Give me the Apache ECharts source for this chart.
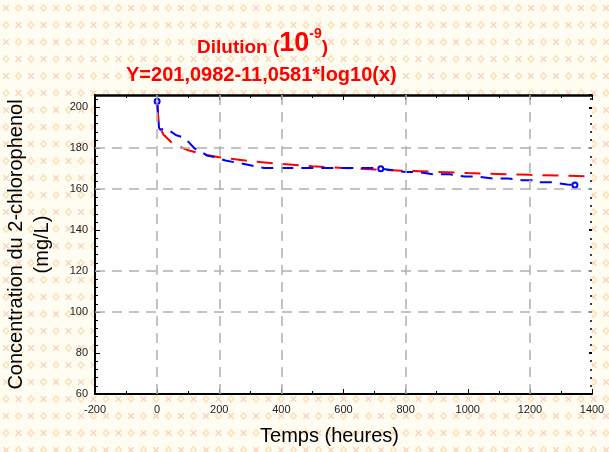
<!DOCTYPE html>
<html><head><meta charset="utf-8">
<script src="https://cdn.jsdelivr.net/npm/echarts@6/dist/echarts.min.js"></script>
<style>html,body{margin:0;padding:0;background:#fff}#c{width:609px;height:452px}</style>
</head><body><div id="c"></div>
<script>
// Fitted model curve (red)
var redX = [1, 2, 5, 10, 20, 50, 100, 150, 200, 300, 400, 500, 600, 700, 800, 1000, 1200, 1400];
var redY = [201.1, 197.8, 193.4, 190.0, 186.7, 182.3, 179.0, 177.0, 175.6, 173.7, 172.3, 171.2, 170.4, 169.6, 169.0, 167.9, 167.0, 166.3];
// Observed data (blue)
var blueX = [0, 2, 4, 6, 10, 20, 40, 60, 80, 95, 120, 140, 160, 190, 220, 255, 300, 330, 345, 500, 700, 720, 800, 840, 890, 940, 990, 1030, 1080, 1130, 1175, 1220, 1230, 1270, 1320, 1345];
var blueY = [203.0, 199.0, 195.0, 190.0, 189.0, 189.5, 188.5, 186.5, 185.5, 184.0, 180.0, 178.5, 176.5, 175.5, 174.0, 173.0, 171.7, 170.7, 170.4, 170.4, 170.4, 170.0, 168.4, 168.4, 167.3, 167.3, 166.2, 166.2, 165.2, 165.2, 164.4, 164.4, 163.4, 163.4, 162.3, 162.0];
var blueMarked = [0, 720, 1345];
// Axes and grid
var xMin = -200, xMax = 1400, xStep = 200;
var yMin = 60, yMax = 206, yStep = 20;
var gridX = [0, 200, 400, 800, 1200];
var gridY = [180, 160, 120, 100];
var titleLine1 = ['Dilution (', '10', '-9', ')'];
var titleLine2 = 'Y=201,0982-11,0581*log10(x)';
var xName = 'Temps (heures)';
var yName = 'Concentration du 2-chlorophenol\n(mg/L)';

function pair(xs, ys) { return xs.map(function (x, i) { return [x, ys[i]]; }); }

// background pattern
var pc = document.createElement('canvas');
pc.width = 25; pc.height = 34;
var g = pc.getContext('2d');
g.fillStyle = '#fffdf2'; g.fillRect(0, 0, 25, 34);
function cross(cx, cy) {
  g.strokeStyle = 'rgba(242,160,120,0.45)'; g.lineWidth = 1.4;
  g.beginPath(); g.moveTo(cx - 2.8, cy - 2.8); g.lineTo(cx + 2.8, cy + 2.8);
  g.moveTo(cx + 2.8, cy - 2.8); g.lineTo(cx - 2.8, cy + 2.8); g.stroke();
}
function dia(cx, cy) {
  g.strokeStyle = 'rgba(246,196,120,0.5)'; g.lineWidth = 1.4;
  g.beginPath(); g.moveTo(cx, cy - 3.2); g.lineTo(cx + 2.8, cy); g.lineTo(cx, cy + 3.2); g.lineTo(cx - 2.8, cy); g.closePath(); g.stroke();
}
cross(6, 8); dia(18.5, 8); dia(6, 25); cross(18.5, 25);

var chart = echarts.init(document.getElementById('c'), null, { renderer: 'canvas' });
var font = 'Liberation Sans, Arial, sans-serif';
var blueData = pair(blueX, blueY).map(function (p) {
  if (blueMarked.indexOf(p[0]) >= 0) return { value: p, symbol: 'emptyCircle', symbolSize: 5 };
  return { value: p };
});
function plain(v) { return String(v); }
chart.setOption({
  animation: false,
  backgroundColor: { image: pc, repeat: 'repeat' },
  title: [{
    text: '{a|' + titleLine1[0] + '}{b|' + titleLine1[1] + '}{c|' + titleLine1[2] + '}{a|' + titleLine1[3] + '}',
    left: 192, top: 22,
    textStyle: {
      rich: {
        a: { fontSize: 19, fontWeight: 'bold', color: '#ff0000', fontFamily: font, verticalAlign: 'bottom', lineHeight: 30 },
        b: { fontSize: 27, fontWeight: 'bold', color: '#ff0000', fontFamily: font, verticalAlign: 'bottom', lineHeight: 30 },
        c: { fontSize: 14, fontWeight: 'bold', color: '#ff0000', fontFamily: font, verticalAlign: 'top', lineHeight: 30 }
      }
    }
  }, {
    text: titleLine2, left: 121, top: 60,
    textStyle: { fontSize: 20, fontWeight: 'bold', color: '#ff0000', fontFamily: font }
  }],
  grid: { left: 95, right: 17, top: 95, bottom: 58, show: true, backgroundColor: '#ffffff', borderWidth: 0, outerBoundsMode: 'none', containLabel: false },
  xAxis: [{
    type: 'value', min: xMin, max: xMax, interval: xStep, position: 'bottom',
    name: xName, nameLocation: 'middle', nameGap: 32,
    nameTextStyle: { fontSize: 20, color: '#000', fontFamily: font, padding: [0, 28, 0, 0] },
    axisLine: { onZero: false, lineStyle: { color: '#000', width: 2 } },
    axisTick: { inside: true, length: 5, lineStyle: { color: '#000' } },
    minorTick: { show: true, splitNumber: 2, length: 3, lineStyle: { color: '#000' } },
    axisLabel: { fontSize: 11, color: '#222', fontFamily: font, margin: 10, formatter: plain },
    splitLine: { show: false }
  }, {
    type: 'value', min: xMin, max: xMax, interval: xStep, position: 'top',
    axisLine: { onZero: false, lineStyle: { color: '#000', width: 2.5 } },
    axisTick: { inside: true, length: 5, lineStyle: { color: '#000' } },
    minorTick: { show: true, splitNumber: 2, length: 3, lineStyle: { color: '#000' } },
    axisLabel: { show: false }, splitLine: { show: false }
  }],
  yAxis: [{
    type: 'value', min: yMin, max: yMax, interval: yStep, position: 'left',
    name: yName, nameLocation: 'middle', nameGap: 40, nameRotate: 90,
    nameTextStyle: { fontSize: 20, color: '#000', fontFamily: font, lineHeight: 26 },
    axisLine: { onZero: false, lineStyle: { color: '#000', width: 2 } },
    axisTick: { inside: true, length: 5, lineStyle: { color: '#000' } },
    minorTick: { show: true, splitNumber: 5, length: 3, lineStyle: { color: '#000' } },
    axisLabel: { fontSize: 11, color: '#222', fontFamily: font, margin: 7, showMaxLabel: false, formatter: plain },
    splitLine: { show: false }
  }, {
    type: 'value', min: yMin, max: yMax, interval: yStep, position: 'right',
    axisLine: { show: false, onZero: false },
    axisTick: { inside: true, length: 3, lineStyle: { color: '#000', width: 2 } },
    minorTick: { show: true, splitNumber: 5, length: 2, lineStyle: { color: '#000', width: 1.5 } },
    axisLabel: { show: false }, splitLine: { show: false }
  }],
  series: [{
    type: 'line', data: [], z: 1, silent: true,
    markLine: {
      silent: true, symbol: 'none', label: { show: false }, animation: false,
      lineStyle: { color: '#b0b0b0', type: [10, 7], width: 1.5 },
      data: gridX.map(function (v) { return { xAxis: v }; }).concat(gridY.map(function (v) { return { yAxis: v }; }))
    }
  }, {
    name: 'Modèle', type: 'line', data: pair(redX, redY), z: 3,
    showSymbol: false, symbol: 'none',
    lineStyle: { color: '#ff0000', width: 2, type: [16, 10] }
  }, {
    name: 'Observé', type: 'line', data: blueData, z: 4,
    symbol: 'none', itemStyle: { color: '#0000ff' },
    lineStyle: { color: '#0000ff', width: 2, type: [12, 8] }
  }]
});
</script></body></html>
